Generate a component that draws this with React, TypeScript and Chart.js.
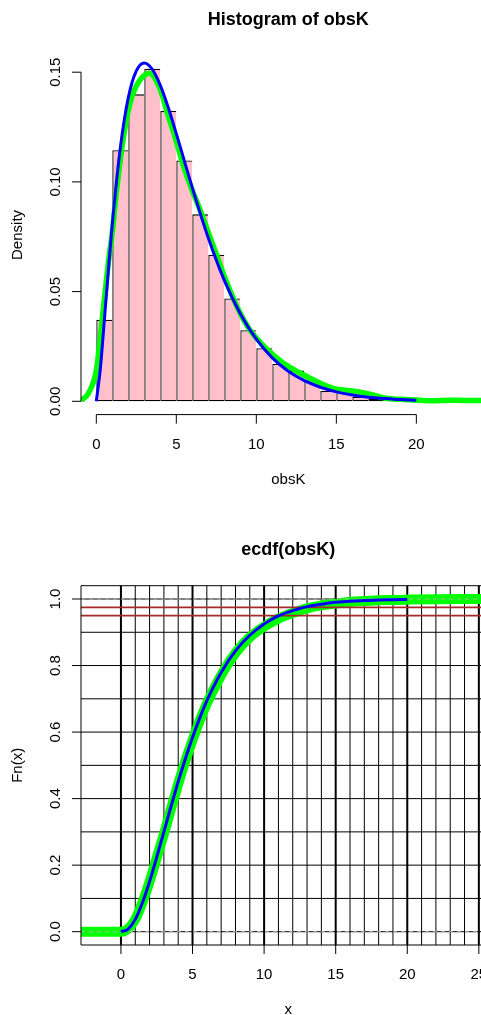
import React, { useEffect, useRef } from "react";
import { Chart, registerables } from "chart.js";

Chart.register(...registerables);

// ---------- Histogram of obsK ----------
const histBinMids = [0.5, 1.5, 2.5, 3.5, 4.5, 5.5, 6.5, 7.5, 8.5, 9.5, 10.5, 11.5, 12.5, 13.5, 14.5, 15.5, 16.5, 17.5, 18.5, 19.5];
const histDensity = [0.0372, 0.1144, 0.1399, 0.1516, 0.1323, 0.1098, 0.0852, 0.0668, 0.0469, 0.0324, 0.0242, 0.0171, 0.014, 0.0096, 0.0047, 0.0057, 0.0021, 0.001, 0.0006, 0.0004];

// kernel density (green)
const densX = [-0.96, -0.5, 0, 0.3, 0.75, 1.0, 1.25, 1.5, 1.8, 2.15, 2.6, 3.3, 4.0, 4.5, 4.9, 5.5, 6.0, 6.5, 7.0, 7.5, 8.0, 8.5, 9.0, 9.6, 10.6, 11.7, 12.7, 13.8, 14.8, 16.0, 17.1, 18.1, 19.0, 20.0, 21.0, 22.0, 23.0, 24.04];
const densY = [0.0003, 0.0036, 0.014, 0.0325, 0.063, 0.077, 0.095, 0.11, 0.125, 0.137, 0.145, 0.1495, 0.142, 0.13, 0.121, 0.106, 0.096, 0.087, 0.077, 0.067, 0.057, 0.048, 0.04, 0.0325, 0.0242, 0.0173, 0.013, 0.0089, 0.0059, 0.0047, 0.0032, 0.0014, 0.0009, 0.0006, 0.0002, 0.0005, 0.0004, 0.0004];

// theoretical density (blue)
const theoDensX = [0, 0.25, 0.5, 0.75, 1, 1.5, 2, 2.5, 3, 3.5, 4, 4.5, 5, 5.5, 6, 7, 8, 9, 10, 11, 12, 13, 14, 15, 16, 17, 18, 19, 20];
const theoDensY = [0, 0.0147, 0.0366, 0.0594, 0.0807, 0.1154, 0.1384, 0.1506, 0.1542, 0.1513, 0.144, 0.1338, 0.122, 0.1096, 0.0973, 0.0744, 0.0551, 0.0399, 0.0283, 0.0198, 0.0137, 0.0094, 0.0064, 0.0043, 0.0029, 0.0019, 0.0013, 0.0008, 0.0005];

const histXTicks = [0, 5, 10, 15, 20];
const histXTickLabels = ["0", "5", "10", "15", "20"];
const histYTicks = [0, 0.05, 0.1, 0.15];
const histYTickLabels = ["0.00", "0.05", "0.10", "0.15"];

// ---------- ecdf(obsK) ----------
const ecdfX = [-2.79, 0, 0.5, 1, 1.5, 2, 2.5, 3, 3.5, 4, 4.5, 5, 5.5, 6, 7, 8, 9, 10, 11, 12, 13, 14, 15, 16, 17, 18, 19, 20, 22, 25.15];
const ecdfY = [0, 0, 0.009, 0.037, 0.088, 0.15, 0.222, 0.293, 0.37, 0.444, 0.513, 0.576, 0.634, 0.686, 0.771, 0.838, 0.885, 0.917, 0.941, 0.958, 0.972, 0.981, 0.986, 0.992, 0.994, 0.996, 0.997, 0.998, 0.9995, 1];

const theoCdfX = [0, 0.5, 1, 1.5, 2, 2.5, 3, 3.5, 4, 4.5, 5, 5.5, 6, 7, 8, 9, 10, 11, 12, 13, 14, 15, 16, 17, 18, 19, 20];
const theoCdfY = [0, 0.008, 0.037, 0.087, 0.151, 0.224, 0.3, 0.377, 0.451, 0.52, 0.584, 0.642, 0.694, 0.779, 0.844, 0.891, 0.925, 0.949, 0.965, 0.977, 0.984, 0.99, 0.993, 0.9955, 0.997, 0.998, 0.9988];

const refLevels = [0.95, 0.975];
const unitLevels = [0, 1];
const ecdfGridX = [0, 1, 2, 3, 4, 5, 6, 7, 8, 9, 10, 11, 12, 13, 14, 15, 16, 17, 18, 19, 20, 21, 22, 23, 24, 25];
const ecdfGridY = [0, 0.1, 0.2, 0.3, 0.4, 0.5, 0.6, 0.7, 0.8, 0.9, 1.0];
const ecdfXTicks = [0, 5, 10, 15, 20, 25];
const ecdfXTickLabels = ["0", "5", "10", "15", "20", "25"];
const ecdfYTicks = [0, 0.2, 0.4, 0.6, 0.8, 1.0];
const ecdfYTickLabels = ["0.0", "0.2", "0.4", "0.6", "0.8", "1.0"];

// scale ranges (R-style 4% extended plot regions)
const H_XMIN = -0.956, H_XMAX = 24.04, H_YMIN = -0.00606, H_YMAX = 0.1577;
const E_XMIN = -2.79, E_XMAX = 25.15, E_YMIN = -0.04, E_YMAX = 1.04;

const FONT = '"Liberation Sans", Arial, Helvetica, sans-serif';
const CENTER_X = 288.3;

const toXY = (xs: number[], ys: number[]) => xs.map((x, i) => ({ x, y: ys[i] }));

function seg(ctx: CanvasRenderingContext2D, x1: number, y1: number, x2: number, y2: number) {
  ctx.beginPath();
  ctx.moveTo(x1, y1);
  ctx.lineTo(x2, y2);
  ctx.stroke();
}

function rotText(ctx: CanvasRenderingContext2D, t: string, x: number, y: number) {
  ctx.save();
  ctx.translate(x, y);
  ctx.rotate(-Math.PI / 2);
  ctx.textAlign = "center";
  ctx.textBaseline = "alphabetic";
  ctx.fillText(t, 0, 0);
  ctx.restore();
}

type AxSpec = {
  title: string;
  titleBase: number;
  xLabel: string;
  yLabel: string;
  xTicks: number[];
  xTickLabels: string[];
  yTicks: number[];
  yTickLabels: string[];
  box: boolean;
};

function makeAxesPlugin(spec: AxSpec) {
  return {
    id: "rAxes",
    afterDraw(chart: any) {
      const ctx: CanvasRenderingContext2D = chart.ctx;
      const xs = chart.scales.x;
      const ys = chart.scales.y;
      const a = chart.chartArea;
      ctx.save();
      ctx.strokeStyle = "#000";
      ctx.fillStyle = "#000";
      ctx.lineWidth = 1;
      // title
      ctx.font = `bold 18px ${FONT}`;
      ctx.textAlign = "center";
      ctx.textBaseline = "alphabetic";
      ctx.fillText(spec.title, CENTER_X, spec.titleBase);

      if (spec.box) {
        seg(ctx, a.left, a.top, a.right + 20, a.top);
        seg(ctx, a.left, a.bottom, a.right + 20, a.bottom);
        seg(ctx, a.left, a.top, a.left, a.bottom);
      } else {
        const y0 = ys.getPixelForValue(spec.yTicks[0]);
        const y1 = ys.getPixelForValue(spec.yTicks[spec.yTicks.length - 1]);
        seg(ctx, a.left, y0, a.left, y1);
        const x0 = xs.getPixelForValue(spec.xTicks[0]);
        const x1 = xs.getPixelForValue(spec.xTicks[spec.xTicks.length - 1]);
        seg(ctx, x0, a.bottom, x1, a.bottom);
      }
      ctx.font = `15px ${FONT}`;
      // y ticks
      spec.yTicks.forEach((v, i) => {
        const y = ys.getPixelForValue(v);
        seg(ctx, a.left - 9, y, a.left, y);
        rotText(ctx, spec.yTickLabels[i], a.left - 21.5, y);
      });
      // x ticks
      ctx.textAlign = "center";
      spec.xTicks.forEach((v, i) => {
        const x = xs.getPixelForValue(v);
        seg(ctx, x, a.bottom, x, a.bottom + 9);
        ctx.fillText(spec.xTickLabels[i], x, a.bottom + 34);
      });
      ctx.fillText(spec.xLabel, CENTER_X, a.bottom + 69.4);
      rotText(ctx, spec.yLabel, 21.5, (a.top + a.bottom) / 2);
      ctx.restore();
    },
  };
}

const gridPlugin = {
  id: "ecdfGrid",
  beforeDatasetsDraw(chart: any) {
    const ctx: CanvasRenderingContext2D = chart.ctx;
    const xs = chart.scales.x;
    const ys = chart.scales.y;
    const a = chart.chartArea;
    ctx.save();
    ctx.strokeStyle = "#000";
    ctx.lineWidth = 1;
    ecdfGridY.forEach((v) => {
      const y = ys.getPixelForValue(v);
      seg(ctx, a.left, y, a.right, y);
    });
    ecdfGridX.forEach((v) => {
      const x = xs.getPixelForValue(v);
      ctx.lineWidth = v % 5 === 0 ? 2 : 1;
      seg(ctx, x, a.top, x, a.bottom);
    });
    ctx.restore();
  },
};

const baseOptions = (xmin: number, xmax: number, ymin: number, ymax: number, padding: any) => ({
  animation: false as const,
  responsive: false,
  maintainAspectRatio: false,
  devicePixelRatio: 1,
  events: [] as any[],
  layout: { padding },
  plugins: { legend: { display: false }, tooltip: { enabled: false } },
  scales: {
    x: { type: "linear" as const, min: xmin, max: xmax, display: false, offset: false, ticks: { includeBounds: false, stepSize: 5 } },
    y: { type: "linear" as const, min: ymin, max: ymax, display: false, ticks: { includeBounds: false } },
  },
});

export default function App() {
  const r1 = useRef<HTMLCanvasElement>(null);
  const r2 = useRef<HTMLCanvasElement>(null);

  useEffect(() => {
    document.body.style.margin = "0";
    document.body.style.background = "#fff";
    const lastBar = histDensity.length - 1;
    const c1 = new Chart(r1.current as HTMLCanvasElement, {
      type: "line",
      data: {
        datasets: [
          {
            type: "bar",
            data: toXY(histBinMids, histDensity),
            backgroundColor: "#FFC0CB",
            borderColor: "#000",
            borderWidth: (c: any) => ({ left: 1.3, top: 1.3, bottom: 1.3, right: c.dataIndex === lastBar ? 1.3 : 0 }),
            borderSkipped: false,
            barPercentage: 1,
            categoryPercentage: 1,
            inflateAmount: 0,
            order: 3,
          } as any,
          {
            type: "line",
            data: toXY(densX, densY),
            borderColor: "#00FF00",
            borderWidth: 5.5,
            pointRadius: 0,
            cubicInterpolationMode: "monotone",
            fill: false,
            clip: 0,
            order: 2,
          } as any,
          {
            type: "line",
            data: toXY(theoDensX, theoDensY),
            borderColor: "#0000FF",
            borderWidth: 3,
            pointRadius: 0,
            cubicInterpolationMode: "monotone",
            fill: false,
            clip: 0,
            order: 1,
          } as any,
        ],
      },
      options: baseOptions(H_XMIN, H_XMAX, H_YMIN, H_YMAX, { left: 81, right: 0, top: 55.3, bottom: 92.4 }) as any,
      plugins: [
        makeAxesPlugin({
          title: "Histogram of obsK",
          titleBase: 24.5,
          xLabel: "obsK",
          yLabel: "Density",
          xTicks: histXTicks,
          xTickLabels: histXTickLabels,
          yTicks: histYTicks,
          yTickLabels: histYTickLabels,
          box: false,
        }),
      ],
    });

    const hLine = (lv: number, color: string, width: number, dash: number[], order: number) => ({
      type: "line",
      data: [
        { x: E_XMIN, y: lv },
        { x: E_XMAX, y: lv },
      ],
      borderColor: color,
      borderWidth: width,
      borderDash: dash,
      pointRadius: 0,
      fill: false,
      clip: 0,
      order,
    });

    const c2 = new Chart(r2.current as HTMLCanvasElement, {
      type: "line",
      data: {
        datasets: [
          {
            type: "line",
            data: toXY(ecdfX, ecdfY),
            borderColor: "#00FF00",
            borderWidth: 10,
            pointRadius: 0,
            cubicInterpolationMode: "monotone",
            fill: false,
            clip: 0,
            order: 5,
          } as any,
          ...unitLevels.map((lv) => hLine(lv, "#B3B3B3", 1, [4, 4], 4) as any),
          ...refLevels.map((lv) => hLine(lv, "#A52A2A", 1.8, [], 3) as any),
          {
            type: "line",
            data: toXY(theoCdfX, theoCdfY),
            borderColor: "#0000FF",
            borderWidth: 3,
            pointRadius: 0,
            cubicInterpolationMode: "monotone",
            fill: false,
            clip: 0,
            order: 1,
          } as any,
        ],
      },
      options: baseOptions(E_XMIN, E_XMAX, E_YMIN, E_YMAX, { left: 81, right: 0, top: 78.7, bottom: 70 }) as any,
      plugins: [
        gridPlugin,
        makeAxesPlugin({
          title: "ecdf(obsK)",
          titleBase: 48,
          xLabel: "x",
          yLabel: "Fn(x)",
          xTicks: ecdfXTicks,
          xTickLabels: ecdfXTickLabels,
          yTicks: ecdfYTicks,
          yTickLabels: ecdfYTickLabels,
          box: true,
        }),
      ],
    });

    return () => {
      c1.destroy();
      c2.destroy();
    };
  }, []);

  return (
    <div style={{ width: 481, height: 1015, background: "#fff" }}>
      <canvas ref={r1} width={481} height={507} style={{ display: "block" }} />
      <canvas ref={r2} width={481} height={508} style={{ display: "block" }} />
    </div>
  );
}
